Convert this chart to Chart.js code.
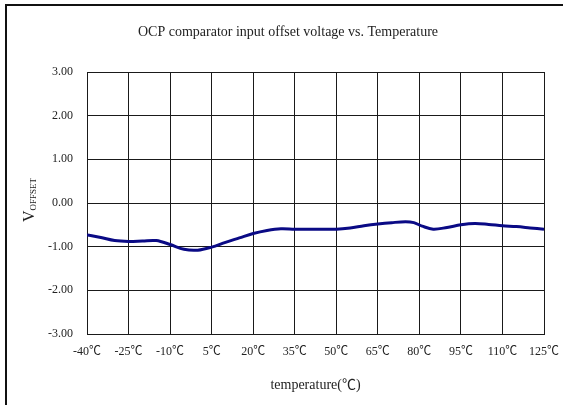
<!DOCTYPE html>
<html>
<head>
<meta charset="utf-8">
<script src="https://cdn.jsdelivr.net/npm/chart.js@4"></script>
<style>
  html, body { margin: 0; padding: 0; background: #fff; }
  #wrap { width: 563px; height: 405px; position: relative; }
</style>
</head>
<body>
<div id="wrap"><canvas id="c"></canvas></div>
<script>
// Temperature (°C) and offset voltage
const temps   = [-40, -35, -30, -25, -20, -15, -10, -5, 0, 5, 10, 15, 20, 25, 30, 35, 40, 45, 50,
                 55, 60, 65, 70, 75, 78, 81, 85, 90, 95, 100, 105, 110, 115, 120, 125];
const voffset = [-0.73, -0.79, -0.86, -0.88, -0.87, -0.86, -0.95, -1.06, -1.08, -1.01, -0.90, -0.80, -0.70,
                 -0.63, -0.59, -0.60, -0.60, -0.60, -0.60, -0.57, -0.52, -0.48, -0.45, -0.43, -0.45,
                 -0.53, -0.60, -0.56, -0.50, -0.47, -0.49, -0.52, -0.54, -0.57, -0.60];

const xTicks = [-40, -25, -10, 5, 20, 35, 50, 65, 80, 95, 110, 125];
const yTicks = [-3, -2, -1, 0, 1, 2, 3];

const TITLE  = "OCP comparator input offset voltage vs. Temperature";
const XTITLE = "temperature(\u2103)";
const FONT   = "'Liberation Serif', 'Times New Roman', 'Noto Sans CJK TC', serif";

// Title, y-axis label with subscript, x-axis label and the outer frame
const decorations = {
  id: "decorations",
  afterDraw(chart) {
    const ctx = chart.ctx;
    ctx.save();
    ctx.fillStyle = "#222";
    ctx.textBaseline = "middle";
    ctx.textAlign = "center";
    ctx.font = `14px ${FONT}`;
    ctx.fillText(TITLE, 288, 32);

    const area = chart.chartArea;
    ctx.fillText(XTITLE, (area.left + area.right) / 2, 385);

    // V with OFFSET subscript, rotated
    ctx.translate(34, 200);
    ctx.rotate(-Math.PI / 2);
    ctx.textAlign = "left";
    ctx.textBaseline = "alphabetic";
    ctx.font = `16px ${FONT}`;
    const vw = ctx.measureText("V").width;
    ctx.font = `9px ${FONT}`;
    const sw = ctx.measureText("OFFSET").width;
    const x0 = -(vw + sw) / 2;
    ctx.font = `16px ${FONT}`;
    ctx.fillText("V", x0, 0);
    ctx.font = `9px ${FONT}`;
    ctx.fillText("OFFSET", x0 + vw, 2);
    ctx.restore();

    ctx.save();
    ctx.strokeStyle = "#111";
    ctx.lineWidth = 2;
    ctx.beginPath();
    ctx.moveTo(6, 405);
    ctx.lineTo(6, 5);
    ctx.lineTo(563, 5);
    ctx.stroke();
    ctx.restore();
  }
};

new Chart(document.getElementById("c"), {
  type: "line",
  data: {
    datasets: [{
      data: temps.map((t, i) => ({ x: t, y: voffset[i] })),
      borderColor: "#0a0a85",
      borderWidth: 3,
      pointRadius: 0,
      tension: 0.35,
      fill: false
    }]
  },
  options: {
    responsive: true,
    maintainAspectRatio: false,
    animation: false,
    layout: { padding: { left: 0, right: 19, top: 72, bottom: 0 } },
    plugins: { legend: { display: false }, tooltip: { enabled: false }, title: { display: false } },
    scales: {
      x: {
        type: "linear",
        min: -40, max: 125,
        afterBuildTicks: s => { s.ticks = xTicks.map(v => ({ value: v })); },
        afterFit: s => { s.height = 71; s.paddingLeft = 0; s.paddingRight = 0; },
        grid: { color: "#1a1a1a", lineWidth: 1, drawTicks: false },
        border: { color: "#1a1a1a", width: 1 },
        ticks: {
          color: "#222", padding: 11, maxRotation: 0, autoSkip: false,
          font: { family: FONT, size: 12 },
          callback: v => v + "\u2103"
        }
      },
      y: {
        min: -3, max: 3,
        afterBuildTicks: s => { s.ticks = yTicks.map(v => ({ value: v })); },
        afterFit: s => { s.width = 87; s.paddingTop = 0; s.paddingBottom = 0; },
        grid: { color: "#1a1a1a", lineWidth: 1, drawTicks: false },
        border: { color: "#1a1a1a", width: 1 },
        ticks: {
          color: "#222", padding: 14,
          font: { family: FONT, size: 12 },
          callback: v => v.toFixed(2)
        }
      }
    }
  },
  plugins: [decorations]
});
</script>
</body>
</html>
